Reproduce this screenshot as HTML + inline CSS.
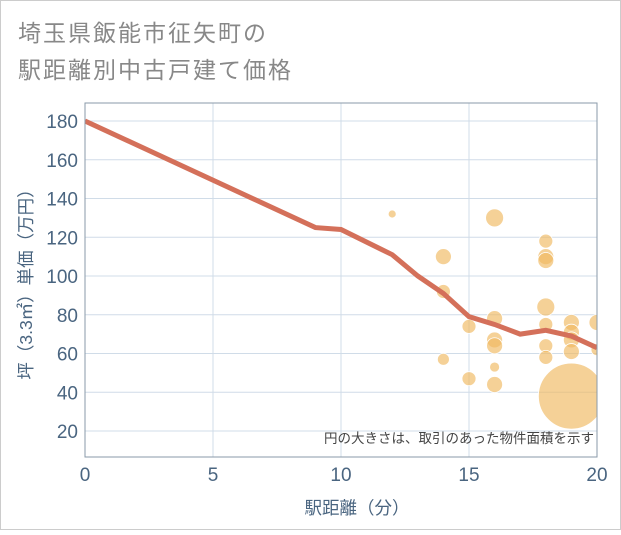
<!DOCTYPE html>
<html><head><meta charset="utf-8"><style>
body{margin:0;background:#fff;font-family:"Liberation Sans","Noto Sans CJK JP",sans-serif}
svg text{font-family:"Liberation Sans","Noto Sans CJK JP",sans-serif}
</style></head><body>
<svg width="621" height="530">
<rect x="0.5" y="0.5" width="620" height="529" fill="#fff" stroke="#ccc"/>
<text x="18" y="41" font-size="23" letter-spacing="2" fill="#888">埼玉県飯能市征矢町の</text>
<text x="18" y="78" font-size="23" letter-spacing="2" fill="#888">駅距離別中古戸建て価格</text>
<defs><clipPath id="pc"><rect x="85" y="103" width="512" height="354"/></clipPath></defs>
<g id="grid"></g>
<g id="bubbles" clip-path="url(#pc)"></g>
<path id="line" fill="none" stroke="#d4705a" stroke-width="5" clip-path="url(#pc)"/>
<rect x="85" y="103" width="512" height="354" fill="none" stroke="#8a9aa8"/>
<g id="axes"></g>
<text x="594" y="443" font-size="13.5" fill="#444" text-anchor="end">円の大きさは、取引のあった物件面積を示す</text>
<text x="357" y="514" font-size="17.5" fill="#4a6580" text-anchor="middle">駅距離（分）</text>
<text transform="translate(32,280) rotate(-90)" font-size="17.5" fill="#4a6580" text-anchor="middle">坪（3.3㎡）単価（万円）</text>
</svg>
<script>
const lineX=[0,9,10,12,13,14,15,16,17,18,19,20];
const lineY=[180,125,124,111,100,91,79,75,70,72,69,63];
const bubX=[12,14,14,14,15,15,16,16,16,16,16,16,18,18,18,18,18,18,18,19,19,19,19,19,20,20];
const bubY=[132,110,92,57,74,47,130,78,67,64,53,44,118,110,108,84,75,64,58,76,71,67,61,38,76,62];
const bubR=[4,8,7,6,7,7,9,8,8,8,5,8,7,8,8,9,7,7,7,8,8,8,8,33,8,6];
const xTicks=[0,5,10,15,20];
const yTicks=[20,40,60,80,100,120,140,160,180];
const sx=v=>85+v*25.6, sy=v=>121+(180-v)*1.9375;
const NS="http://www.w3.org/2000/svg";
const g=document.getElementById('grid'),ax=document.getElementById('axes'),bb=document.getElementById('bubbles');
function mk(t,a,p){const e=document.createElementNS(NS,t);for(const k in a)e.setAttribute(k,a[k]);p.appendChild(e);return e;}
yTicks.forEach(v=>{
 const l=mk('line',{x1:85,x2:597,y1:sy(v),y2:sy(v),stroke:'#d0dce8'},g);
 
 
 const t=mk('text',{x:78,y:sy(v)+7,'font-size':19,fill:'#4a6580','text-anchor':'end'},ax);t.textContent=v;
 
 
});
xTicks.forEach(v=>{
 const l=mk('line',{x1:sx(v),x2:sx(v),y1:103,y2:457,stroke:'#d0dce8'},g);
 
 
 const t=mk('text',{x:sx(v),y:481,'font-size':19,fill:'#4a6580','text-anchor':'middle'},ax);t.textContent=v;
 
 
});
bubX.forEach((x,i)=>{
 const c=mk('circle',{cx:sx(x),cy:sy(bubY[i]),r:bubR[i],fill:'#f0b860','fill-opacity':0.65,stroke:'#fff','stroke-width':0.8},bb);
 
 
});
document.getElementById('line').setAttribute('d',lineX.map((x,i)=>(i?'L':'M')+sx(x)+','+sy(lineY[i])).join(''));
</script>
</body></html>
